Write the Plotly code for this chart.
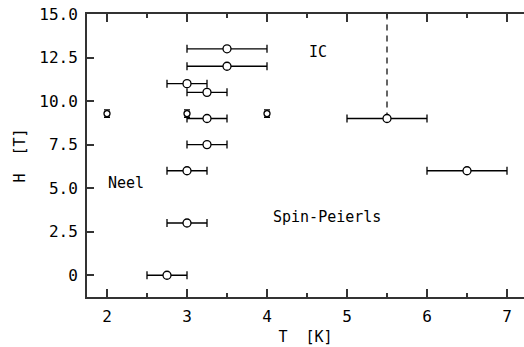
import plotly.graph_objects as go

# Transition points with horizontal error bars
T_pts = [3.5, 3.5, 3.0, 3.25, 3.25, 3.25, 3.0, 3.0, 2.75, 5.5, 6.5]
H_pts = [13.0, 12.0, 11.0, 10.5, 9.0, 7.5, 6.0, 3.0, 0.0, 9.0, 6.0]
T_err = [0.5, 0.5, 0.25, 0.25, 0.25, 0.25, 0.25, 0.25, 0.25, 0.5, 0.5]

# Points with vertical error bars
T_v = [2.0, 3.0, 4.0]
H_v = [9.28, 9.28, 9.28]
H_verr = [0.21, 0.21, 0.21]

# Dashed boundary
T_dash = [5.5, 5.5]
H_dash = [9.0, 15.0]

x_ticks = [2, 3, 4, 5, 6, 7]
y_ticks = [0, 2.5, 5.0, 7.5, 10.0, 12.5, 15.0]
y_ticktext = ["0", "2.5", "5.0", "7.5", "10.0", "12.5", "15.0"]

labels = ["IC", "Neel", "Spin-Peierls"]
label_T = [4.64, 2.24, 4.75]
label_H = [12.8, 5.3, 3.33]

FONT = "DejaVu Sans Mono"
fig = go.Figure()

fig.add_trace(go.Scatter(x=T_dash, y=H_dash, mode="lines",
                         line=dict(color="#333", width=1.5, dash="6px,5px"),
                         showlegend=False))

fig.add_trace(go.Scatter(
    x=T_pts, y=H_pts, mode="markers",
    marker=dict(symbol="circle", size=8, color="white",
                line=dict(color="black", width=1.3)),
    error_x=dict(type="data", array=T_err, visible=True, color="black",
                 thickness=1.3, width=4),
    showlegend=False))

fig.add_trace(go.Scatter(
    x=T_v, y=H_v, mode="markers",
    marker=dict(symbol="circle", size=6, color="white",
                line=dict(color="black", width=1.3)),
    error_y=dict(type="data", array=H_verr, visible=True, color="black",
                 thickness=1.3, width=3),
    showlegend=False))

for txt, tx, ty in zip(labels, label_T, label_H):
    fig.add_annotation(x=tx, y=ty, text=txt, showarrow=False,
                       font=dict(family=FONT, size=15, color="black"))

fig.update_layout(
    width=524, height=347,
    margin=dict(l=87, r=0, t=14, b=50),
    paper_bgcolor="white", plot_bgcolor="white",
    font=dict(family=FONT, size=15, color="black"),
    xaxis=dict(range=[1.75, 7.2125], tickvals=x_ticks, ticks="inside",
               ticklen=8, tickwidth=1.5, tickcolor="#333",
               minor=dict(dtick=0.5, tick0=0, ticks="inside", ticklen=4,
                          tickwidth=1.5, tickcolor="#333"),
               showline=True, linecolor="#333", linewidth=2, mirror="ticks",
               showgrid=False, zeroline=False,
               tickfont=dict(size=16), ticklabelstandoff=4,
               title=dict(text="T  [K]", font=dict(size=15), standoff=6)),
    yaxis=dict(range=[-1.25, 15], tickvals=y_ticks, ticktext=y_ticktext,
               ticks="inside", ticklen=7, tickwidth=1.5, tickcolor="#333",
               showline=True, linecolor="#333", linewidth=2, mirror=False,
               showgrid=False, zeroline=False,
               tickfont=dict(size=16), ticklabelstandoff=4,
               title=dict(text="H  [T]", font=dict(size=15), standoff=10)),
)

fig.write_html("out.html")
